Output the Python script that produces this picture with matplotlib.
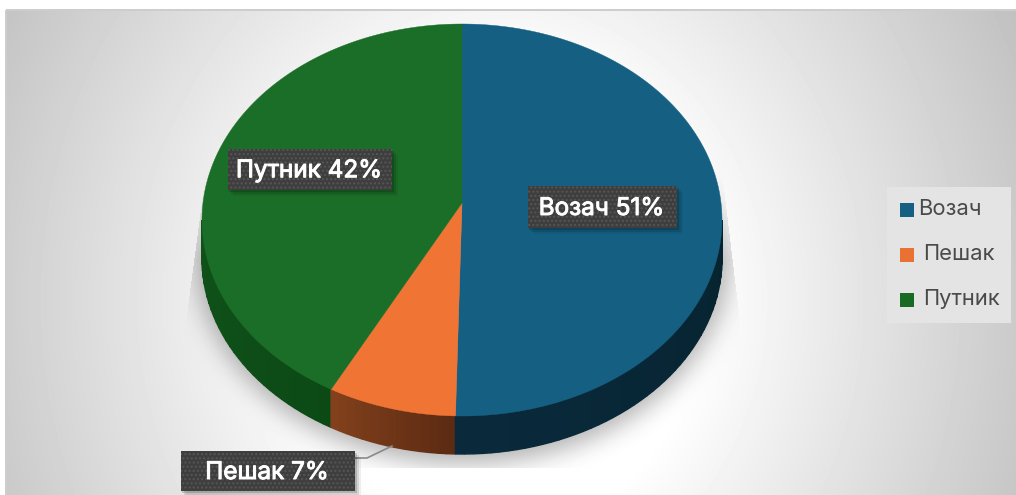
import numpy as np
import matplotlib
matplotlib.use("Agg")
import matplotlib.pyplot as plt
import matplotlib.patheffects as pe
from matplotlib.colors import to_rgb
from matplotlib.patches import Rectangle

categories = ["Возач", "Пешак", "Путник"]
label_percent = [51, 7, 42]
slice_shares = [50.4, 8.0, 41.6]
top_colors = ["#156082", "#F07534", "#1B6E27"]
side_dark = ["#06232F", "#5A2A12", "#0C4A15"]
side_light = ["#0A2A3C", "#83411C", "#10521A"]
legend_colors = ["#156082", "#E97132", "#196B24"]
label_boxes = [(528, 186, 149, 42), (181, 451, 174, 40), (228, 149, 164, 41)]
legend_y = [210, 255, 300]
legend_x = [918.5, 923.5, 923.5]

W, H = 1016, 495
CX, CY, RX, RY, AX, AY, DEPTH = 462, 220, 260, 196, 462, 203, 38

plt.rcParams["font.family"] = ["Inter", "Roboto", "DejaVu Sans"]
fig = plt.figure(figsize=(W / 100, H / 100), dpi=100)
ax = fig.add_axes([0, 0, 1, 1])
ax.set_xlim(0, W)
ax.set_ylim(H, 0)
ax.axis("off")


def blur(a, s):
    x = np.arange(-3 * s, 3 * s + 1)
    k = np.exp(-x**2 / (2 * s**2))
    k /= k.sum()
    a = np.apply_along_axis(lambda r: np.convolve(r, k, mode="same"), 0, a)
    return np.apply_along_axis(lambda r: np.convolve(r, k, mode="same"), 1, a)


# background: soft gradient with a clipped drop shadow beneath the pie
yy, xx = np.mgrid[0:H, 0:W]
d = np.hypot(xx - 500, 0.9 * (yy - 300))
bg = 255 - 0.165 * np.clip(d - 200, 0, None)
m = (((xx - CX) / 268.0) ** 2 + ((yy - 252) / 212.0) ** 2 < 1).astype(float)
sh = blur(m, 12)
t = np.clip((yy - 175) / 150.0, 0, 1)
left = 205 - 20 * t
right = 722 + 18 * t
fade = np.clip((yy - 170) / 90.0, 0, 1)
clip = (xx > left) & (xx < right) & (yy < 468)
bg = bg * (1 - 0.30 * sh * clip * fade)
bg[:10, :] = 255
bg[:, :6] = 255
bg[9:11, 6:] = 205
bg[10:, 5:7] = 205
ax.imshow(bg, cmap="gray", vmin=0, vmax=255, extent=(0, W, H, 0), aspect="auto", zorder=0, interpolation="bilinear")


def pt(theta):
    return CX + RX * np.sin(theta), CY - RY * np.cos(theta)


edges = np.cumsum([0] + slice_shares) / np.sum(slice_shares) * 2 * np.pi

# pie wall, shaded in bands along the rim
for i in range(len(slice_shares)):
    lo, hi = max(edges[i], np.pi / 2), min(edges[i + 1], 3 * np.pi / 2)
    if hi <= lo:
        continue
    steps = max(2, int((hi - lo) * 30))
    th = np.linspace(lo, hi, steps + 1)
    c0, c1 = np.array(to_rgb(side_dark[i])), np.array(to_rgb(side_light[i]))
    for j in range(steps):
        a = np.linspace(th[j], th[j + 1], 8)
        x, y = pt(a)
        f = (j + 0.5) / steps
        col = c0 + (c1 - c0) * f
        ax.fill(np.r_[x, x[::-1]], np.r_[y, y[::-1] + DEPTH],
                facecolor=col, edgecolor=col, lw=1.0, zorder=3 + 0.001 * j)

# pie top surface
for i in range(len(slice_shares)):
    th = np.linspace(edges[i], edges[i + 1], 200)
    x, y = pt(th)
    ax.fill(np.r_[AX, x], np.r_[AY, y], color=top_colors[i], lw=0.3, zorder=4)

# leader line for the outside label
ax.plot([392, 367, 355], [446, 458, 458], color="#8a8a8a", lw=1.2, zorder=5)

# data labels
for (name, val, (bx, by, bw, bh)) in zip(categories, label_percent, label_boxes):
    for o, al in ((6, .06), (4, .10), (2, .16)):
        ax.add_patch(Rectangle((bx + o - 1, by + o), bw + 1, bh, color="black", alpha=al, lw=0, zorder=6))
    ax.add_patch(Rectangle((bx, by), bw, bh, facecolor="#3E3E3E", edgecolor="#565656", hatch="....", lw=0, zorder=7))
    tx = ax.text(bx + bw / 2 - 1, by + bh / 2 + 1.5, f"{name} {val}%", color="white", fontsize=17.5,
                 ha="center", va="center", zorder=8)
    tx.set_path_effects([pe.withStroke(linewidth=0.7, foreground="white")])

# legend
ax.add_patch(Rectangle((887, 187), 124, 136, color="#E4E4E4", lw=0, zorder=2))
for name, c, y, x in zip(categories, legend_colors, legend_y, legend_x):
    ax.add_patch(Rectangle((900, y - 7), 14, 14, color=c, lw=0, zorder=3))
    ax.text(x, y - 1, name, color="#4A4A4A", fontsize=15.8, ha="left", va="center", zorder=3)

fig.savefig("out.png", dpi=100)
